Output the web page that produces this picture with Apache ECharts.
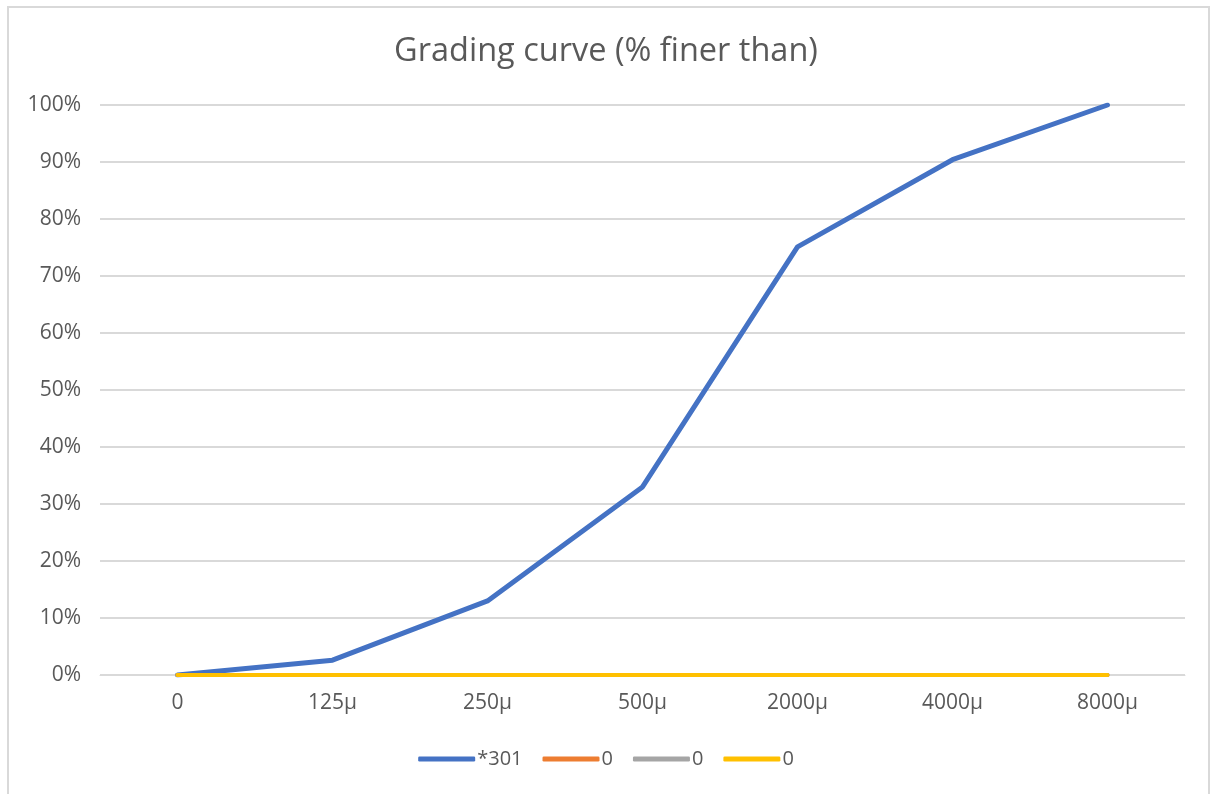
<!DOCTYPE html>
<html>
<head>
<meta charset="utf-8">
<script src="https://cdn.jsdelivr.net/npm/echarts@6/dist/echarts.min.js"></script>
<style>
  html, body { margin: 0; padding: 0; background: #fff; }
  #frame { position: absolute; left: 7px; top: 6px; width: 1203px; height: 800px; border: 2px solid #d9d9d9; box-sizing: border-box; }
  #chart { width: 1212px; height: 794px; }
</style>
</head>
<body>
<div id="frame"></div>
<div id="chart"></div>
<script>
// Sieve sizes and cumulative percentage passing
const sieveSizes = ['0', '125µ', '250µ', '500µ', '2000µ', '4000µ', '8000µ'];
const sample301 = [0, 2.6, 13.0, 33.0, 75.1, 90.4, 100];
const seriesB = [0, 0, 0, 0, 0, 0, 0];
const seriesC = [0, 0, 0, 0, 0, 0, 0];
const seriesD = [0, 0, 0, 0, 0, 0, 0];
const seriesNames = ['*301', '0', '0', '0'];
const seriesColors = ['#4472c4', '#ed7d31', '#a5a5a5', '#ffc000'];

const font = '"Open Sans", "Liberation Sans", sans-serif';
const chart = echarts.init(document.getElementById('chart'), null, { renderer: 'canvas' });

const dataSets = [sample301, seriesB, seriesC, seriesD];
// zero-width spaces keep the three "0" legend entries distinct
const series = dataSets.map((d, i) => ({
  name: seriesNames[i] + '\u200b'.repeat(i),
  type: 'line',
  data: d,
  symbol: 'none',
  lineStyle: { color: seriesColors[i], width: i === 0 ? 5 : 4, cap: 'round', join: 'round' },
  itemStyle: { color: seriesColors[i] },
  z: 2 + i
}));

chart.setOption({
  animation: false,
  title: {
    text: 'Grading curve (% finer than)',
    left: 'center',
    top: 30,
    textStyle: { fontFamily: font, fontSize: 32.5, fontWeight: 'normal', color: '#595959' }
  },
  legend: {
    bottom: 20,
    left: 'center',
    icon: 'roundRect',
    itemWidth: 57,
    itemHeight: 5,
    itemGap: 20,
    textStyle: { fontFamily: font, fontSize: 20, color: '#595959', padding: [0, 0, 0, -3] },
    data: series.map(s => s.name)
  },
  grid: { left: 100, right: 27, top: 105, bottom: 119 },
  xAxis: {
    type: 'category',
    data: sieveSizes,
    boundaryGap: true,
    axisLine: { show: true, lineStyle: { color: '#d9d9d9', width: 1 } },
    axisTick: { show: false },
    axisLabel: { fontFamily: font, fontSize: 21, color: '#595959', margin: 18 }
  },
  yAxis: {
    type: 'value',
    min: 0,
    max: 100,
    interval: 10,
    axisLine: { show: false },
    axisTick: { show: false },
    axisLabel: { fontFamily: font, fontSize: 21, color: '#595959', margin: 19, formatter: v => v + '%' },
    splitLine: { lineStyle: { color: '#d9d9d9', width: 2 } }
  },
  series: series
});
</script>
</body>
</html>
